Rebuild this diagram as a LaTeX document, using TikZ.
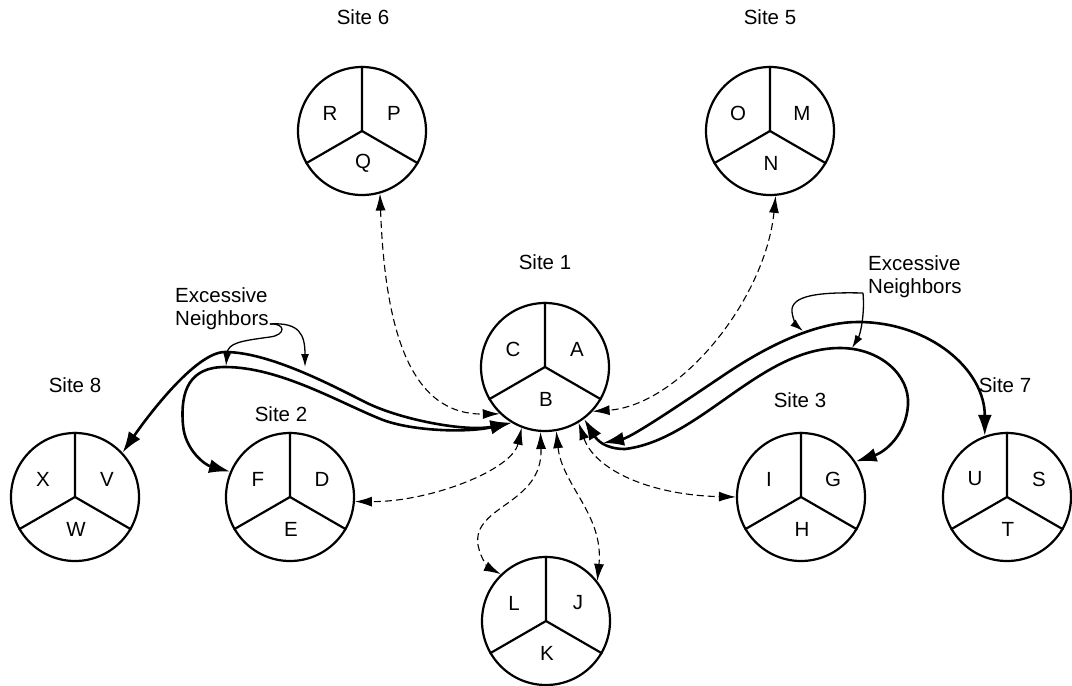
\documentclass[tikz,border=0pt]{standalone}
\usepackage{fontspec}
\setmainfont{Liberation Sans}
\usetikzlibrary{arrows.meta}

% one site: a circle cut into three sectors, each with its letter
% #1 name, #2 x, #3 y, #4 upper-left, #5 upper-right, #6 lower
\newcommand\drawsite[6]{%
  \node[sitecirc] (#1) at (#2,#3) {};
  \draw[divider] (#1.90) -- (#1.center) -- (#1.210) (#1.center) -- (#1.330);
  \node[lbl] (#1-a) at ([shift={(-32,-18)}]#1.center) {#4};
  \node[lbl] (#1-b) at ([shift={(32,-18)}]#1.center) {#5};
  \node[lbl] (#1-c) at ([shift={(1,32)}]#1.center) {#6};
}

\begin{document}
\begin{tikzpicture}[x=1pt,y=-1pt,
  font=\fontsize{20.5}{23}\selectfont,
  sitecirc/.style={circle, draw, line width=2.2pt, minimum size=128pt, inner sep=0pt},
  divider/.style={line width=2.2pt},
  lbl/.style={inner sep=0pt},
  solidcon/.style={line width=2.6pt,
    {Latex[length=21pt,width=14pt]}-{Latex[length=21pt,width=14pt]}},
  dashcon/.style={line width=1.1pt, dash pattern=on 7pt off 4pt,
    {Latex[length=17pt,width=10pt]}-{Latex[length=17pt,width=10pt]}},
  notecon/.style={line width=1.3pt, -{Latex[length=13pt,width=8pt]}}
]
\useasboundingbox (0,0) rectangle (1072,686);

% sites
\drawsite{s6}{362}{131}{R}{P}{Q}
\drawsite{s5}{770}{131}{O}{M}{N}
\drawsite{s1}{545}{367}{C}{A}{B}
\drawsite{s8}{75}{497}{X}{V}{W}
\drawsite{s2}{290}{497}{F}{D}{E}
\drawsite{sk}{546}{621}{L}{J}{K}
\drawsite{s3}{801}{497}{I}{G}{H}
\drawsite{s7}{1007}{497}{U}{S}{T}

% site titles
\node[lbl] (t6) at (363,17) {Site 6};
\node[lbl] (t5) at (770,17) {Site 5};
\node[lbl] (t1) at (545,262) {Site 1};
\node[lbl] (t8) at (75,385) {Site 8};
\node[lbl] (t2) at (281,414) {Site 2};
\node[lbl] (t3) at (800,400) {Site 3};
\node[lbl] (t7) at (1005,385) {Site 7};

% dashed links between Site 1 and its neighbours
\draw[dashcon] (s6.286) .. controls (385,330) and (410,415) .. (s1.226);
\draw[dashcon] (s5.275) .. controls (765,300) and (680,405) .. (s1.317);
\draw[dashcon] (s1.249) .. controls (512,470) and (430,502) .. (s2.356);
\draw[dashcon] (s1.266) .. controls (543,505) and (472,505) .. (478,545)
                        .. controls (481,560) and (489,568) .. (sk.134);
\draw[dashcon] (s1.280) .. controls (562,485) and (604,515) .. (sk.38);
\draw[dashcon] (s1.301) .. controls (595,470) and (650,495) .. (s3.180);

% solid links to the excessive neighbours
\draw[solidcon] (s1.239) .. controls (466,432) and (402,420) .. (367,403)
                         .. controls (335,387) and (270,352) .. (225,352)
                         .. controls (195,352) and (145,420) .. (s8.43);
\draw[solidcon] (s1.239) .. controls (466,433) and (413,431) .. (383,420)
                         .. controls (340,403) and (280,367) .. (225,367)
                         .. controls (190,367) and (180,390) .. (183,425)
                         .. controls (185,450) and (205,465) .. (s2.157);
\coordinate (s7tail) at (603,443);
\draw[solidcon] (s7tail) .. controls (633,437) and (697,393) .. (727,373)
                         .. controls (757,353) and (810,322) .. (858,322)
                         .. controls (930,322) and (985,370) .. (s7.110);
\draw[solidcon] (s1.307) .. controls (597,440) and (605,449) .. (625,449)
                         .. controls (700,440) and (760,348) .. (840,348)
                         .. controls (880,348) and (910,375) .. (908,405)
                         .. controls (906,435) and (885,452) .. (s3.33);

% annotations
\node[lbl, anchor=base west] (exl1) at (175,302) {Excessive};
\node[lbl, anchor=base west] (exl2) at (175,325) {Neighbors};
\node[lbl, anchor=base west] (exr1) at (868,270) {Excessive};
\node[lbl, anchor=base west] (exr2) at (868,293) {Neighbors};

\coordinate (nl) at ([shift={(1,-1)}]exl2.base east);
\draw[notecon] (nl) .. controls (286,323) and (286,335) .. (270,337)
                    .. controls (240,341) and (228,343) .. (226,366);
\draw[notecon] (nl) .. controls (300,322) and (305,335) .. (305,367);

\coordinate (nr) at ([shift={(-5,0)}]exr2.base west);
\draw[notecon] (nr) .. controls (820,292) and (790,295) .. (792,312)
                    .. controls (793,320) and (797,326) .. (803,331);
\draw[notecon] (nr) .. controls (865,315) and (860,335) .. (852,348);
\end{tikzpicture}
\end{document}
